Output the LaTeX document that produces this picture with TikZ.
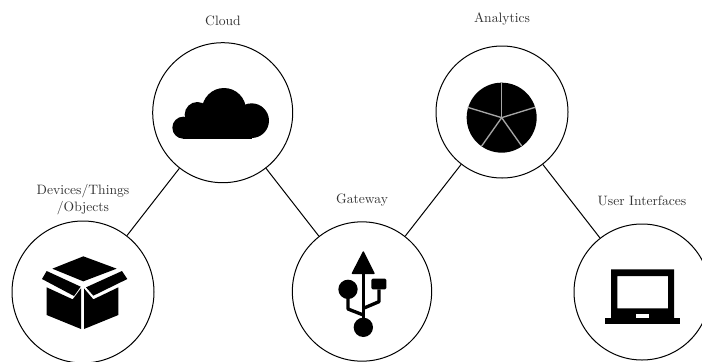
\documentclass[tikz,border=0pt]{standalone}
\begin{document}
\begin{tikzpicture}[x=0.75pt,y=-0.75pt,
  hub/.style={draw=black,circle,inner sep=0pt,line width=0.75pt},
  lbl/.style={inner sep=0pt,align=center,text=black!80,font=\fontsize{10.2}{12.6}\selectfont},
  link/.style={draw=black,line width=0.75pt},
  zoomed/.style={x=0.25pt,y=-0.25pt},
  wire/.style={draw=black,line width=2.5pt,line join=round}]
\useasboundingbox (0,0) rectangle (702,361);
\begin{scope}
\clip (0,0) rectangle (702,361);
\node[hub,minimum size=106.5pt] (dev) at (83,292) {};
\node[hub,minimum size=105pt] (cloud) at (222.7,112.7) {};
\node[hub,minimum size=99pt] (ana) at (502,112) {};
\node[hub,minimum size=104.5pt] (gate) at (362,291.5) {};
\node[hub,minimum size=102pt] (ui) at (642,292) {};
\draw[link] (dev) -- (cloud);
\draw[link] (cloud) -- (gate);
\draw[link] (gate) -- (ana);
\draw[link] (ana) -- (ui);
% box
\begin{scope}[shift={(0,180)},zoomed]
\fill[line join=round] (250,229) -- (350,266) -- (250,304) -- (157,266) -- cycle;
\fill (126,297) -- (140,273) -- (242,320) -- (222,348) -- cycle;
\fill (366,273) -- (382,297) -- (280,347) -- (258,322) -- cycle;
\fill (140,322) -- (218,358) -- (243,325) -- (243,447) -- (140,405) -- cycle;
\fill (355,322) -- (355,405) -- (252,447) -- (252,325) -- (280,358) -- cycle;
\end{scope}
% cloud
\begin{scope}[shift={(140,30)},zoomed]
\fill (130,293) circle[radius=33];
\fill (172,254) circle[radius=38];
\fill (252,240) circle[radius=66];
\fill (335,272) circle[radius=52];
\fill (130,260) rectangle (335,326);
\end{scope}
% pie
\begin{scope}[shift={(425,30)},zoomed]
\coordinate (pc) at (230,263);
\fill (pc) circle[radius=105];
\foreach \e in {(230,158),(330,232),(290,348),(170,348),(128,232)}
  \draw[black!35,line width=1pt] (pc) -- \e;
\end{scope}
% usb
\begin{scope}[shift={(285,190)},zoomed]
\fill[draw=black,line width=1pt,line join=round] (235,186) -- (267,250) -- (202,250) -- cycle;
\draw[wire] (235,250) -- (235,400);
\fill (189,298) circle[radius=29];
\fill (235,412) circle[radius=29];
\draw[wire] (189,320) -- (189,357) -- (235,375);
\draw[wire] (282,298) -- (282,335) -- (235,355);
\fill[rounded corners=1pt] (259,266) rectangle (304,298);
\end{scope}
% laptop
\begin{scope}[shift={(560,190)},zoomed]
\fill[even odd rule] (153,238) rectangle (342,385) (172,258) rectangle (324,355);
\fill (134,383) rectangle (360,402);
\fill[white] (228,373) rectangle (267,383);
\end{scope}
\end{scope}
\node[lbl] (l1) at (223,21) {Cloud};
\node[lbl] (l2) at (502,19) {Analytics};
\node[lbl] (l3) at (83,199.5) {Devices/Things\\/Objects};
\node[lbl] (l4) at (362,200) {Gateway};
\node[lbl] (l5) at (642,200.5) {User Interfaces};
\end{tikzpicture}
\end{document}
